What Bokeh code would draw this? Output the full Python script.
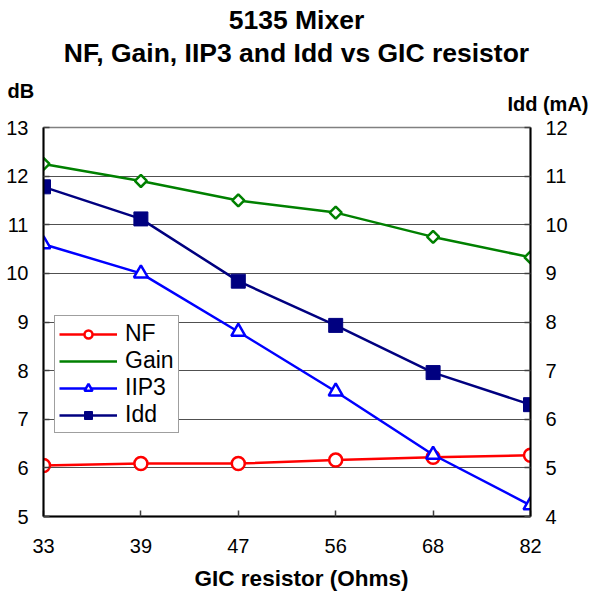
import math
from bokeh.plotting import figure
from bokeh.layouts import column
from bokeh.models import (Range1d, LinearAxis, FixedTicker, Label, Legend, LegendItem)
from bokeh.embed import file_html
from bokeh.resources import INLINE

# ---- data ----
resistors = ["33", "39", "47", "56", "68", "82"]
nf = [6.05, 6.09, 6.09, 6.16, 6.22, 6.26]
gain = [12.25, 11.90, 11.50, 11.25, 10.75, 10.33]
iip3 = [10.60, 10.00, 8.80, 7.57, 6.27, 5.23]
idd = [10.78, 10.12, 8.84, 7.93, 6.96, 6.30]
db_ticks = [5, 6, 7, 8, 9, 10, 11, 12, 13]
ma_ticks = [4, 5, 6, 7, 8, 9, 10, 11, 12]

xs = list(range(len(resistors)))
FONT = "Liberation Sans"
W = 590
TOP_H, MAIN_H, BOT_H = 115, 450, 27


def text_strip(h):
    f = figure(width=W, height=h, output_backend="svg", toolbar_location=None,
               x_range=Range1d(0, W), y_range=Range1d(h, 0),
               x_axis_type=None, y_axis_type=None, min_border=0, frame_align=False)
    f.title = None
    f.outline_line_color = None
    f.grid.visible = False
    f.background_fill_color = "white"
    f.border_fill_color = "white"
    return f


def lab(f, x, y, text, size, align="center"):
    f.add_layout(Label(x=x, y=y, text=text, text_font=FONT, text_font_size=size,
                       text_font_style="bold", text_align=align,
                       text_baseline="middle", text_color="black"))


# ---- top strip: titles and unit labels ----
top = text_strip(TOP_H)
lab(top, 296, 19, "5135 Mixer", "26.5px")
lab(top, 296, 52, "NF, Gain, IIP3 and Idd vs GIC resistor", "26.5px")
lab(top, 7, 90, "dB", "20px", align="left")
lab(top, 588, 103, "Idd (mA)", "20px", align="right")

# ---- main chart ----
p = figure(width=W, height=MAIN_H, output_backend="svg", toolbar_location=None,
           x_range=Range1d(0, len(resistors) - 1), y_range=Range1d(5, 13),
           min_border_left=43, min_border_right=60, min_border_top=12, min_border_bottom=49,
           frame_align=False)
p.title = None
p.background_fill_color = "white"
p.border_fill_color = "white"
p.outline_line_color = "#808080"
p.outline_line_width = 1.5
p.extra_y_ranges = {"ma": Range1d(4, 12)}

p.xaxis.ticker = FixedTicker(ticks=xs)
p.xaxis.major_label_overrides = {i: r for i, r in zip(xs, resistors)}
p.yaxis.ticker = FixedTicker(ticks=db_ticks)
right = LinearAxis(y_range_name="ma", ticker=FixedTicker(ticks=ma_ticks))
p.add_layout(right, "right")

for ax in [p.xaxis[0], p.yaxis[0], right]:
    ax.axis_line_color = "black"
    ax.axis_line_width = 2
    ax.major_tick_line_color = "#404040"
    ax.major_tick_line_width = 1.5
    ax.major_tick_in = 6
    ax.major_tick_out = 0
    ax.minor_tick_line_color = None
    ax.major_label_text_font = FONT
    ax.major_label_text_font_size = "20px"
    ax.major_label_text_color = "black"
p.yaxis[0].major_label_standoff = 15
right.major_label_standoff = 15
p.xaxis[0].major_label_standoff = 22

p.xgrid.grid_line_color = None
p.ygrid.grid_line_color = "#505050"
p.ygrid.grid_line_width = 1

r_nf = p.line(xs, nf, color="#FF0000", line_width=2.5)
m_nf = p.scatter(xs, nf, marker="circle", size=13, line_color="#FF0000", line_width=2.5, fill_color="white")
r_g = p.line(xs, gain, color="#008000", line_width=2.5)
m_g = p.scatter(xs, gain, marker="square", angle=math.pi / 4, size=8.5, line_color="#008000",
                line_width=2.5, fill_color="white")
# legend-only glyph (the legend draws markers unrotated)
lg_g = p.scatter(x=[], y=[], marker="diamond", size=14, line_color="#008000", line_width=2.5,
                 fill_color="white")
r_i = p.line(xs, iip3, color="#0000FF", line_width=2.5)
m_i = p.scatter(xs, iip3, marker="triangle", size=14, line_color="#0000FF", line_width=2.5, fill_color="white")
r_d = p.line(xs, idd, color="#000080", line_width=2.5, y_range_name="ma")
m_d = p.scatter(xs, idd, marker="square", size=14, line_color="#000080", line_width=1,
                fill_color="#000080", y_range_name="ma")

legend = Legend(items=[
    LegendItem(label="NF", renderers=[r_nf, m_nf]),
    LegendItem(label="Gain", renderers=[r_g, lg_g]),
    LegendItem(label="IIP3", renderers=[r_i, m_i]),
    LegendItem(label="Idd", renderers=[r_d, m_d]),
], location=(11, 83))
legend.label_text_font = FONT
legend.label_text_font_size = "23px"
legend.label_text_color = "black"
legend.glyph_width = 58
legend.glyph_height = 20
legend.label_height = 20
legend.spacing = 0
legend.padding = 4
legend.margin = 0
legend.border_line_color = "#404040"
legend.border_line_width = 1
legend.background_fill_color = "white"
legend.background_fill_alpha = 1
legend.label_standoff = 8
p.add_layout(legend, "center")

# ---- bottom strip: x axis title ----
bot = text_strip(BOT_H)
lab(bot, 301, 13, "GIC resistor (Ohms)", "22.5px")

layout = column(top, p, bot, spacing=0)
open("out.html", "w").write(file_html(layout, INLINE))
